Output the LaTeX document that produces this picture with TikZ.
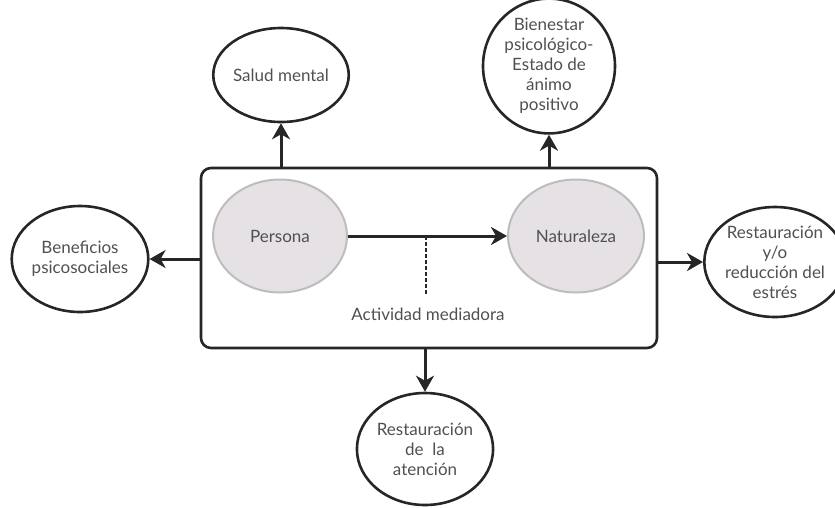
\documentclass[tikz,border=0pt]{standalone}
\usepackage{fontspec}
\setmainfont{Lato}
\usetikzlibrary{shapes.geometric,arrows.meta}
\definecolor{txt}{HTML}{505050}
\definecolor{edge}{HTML}{262626}
\definecolor{softfill}{HTML}{E5E1E5}
\definecolor{softedge}{HTML}{BDBDBD}
\begin{document}
\begin{tikzpicture}[x=1pt,y=-1pt,
  outcome/.style={ellipse,draw=edge,line width=2.6pt,inner sep=0pt,text=txt,align=center,
    font=\fontsize{17}{20}\selectfont},
  actor/.style={ellipse,draw=softedge,fill=softfill,line width=2pt,inner sep=0pt,text=txt,
    font=\fontsize{17}{20}\selectfont},
  link/.style={draw=edge,line width=3pt,-{Stealth[length=16pt,width=18pt,inset=5pt]}}]
\useasboundingbox (0,0) rectangle (835,507);
\node[draw=edge,line width=2.6pt,rounded corners=10pt,minimum width=456pt,minimum height=180pt,inner sep=0pt] (box) at (429,258) {};
\node[actor,minimum width=134pt,minimum height=113pt] (per) at (280,236) {Persona};
\node[actor,minimum width=136pt,minimum height=113pt] (nat) at (576,236) {Naturaleza};
\coordinate (mid) at (426,236);
\coordinate (dend) at (426,295);
\draw[link] (per.east) -- (nat.west);
\draw[edge,line width=2.8pt,dash pattern=on 4pt off 2pt] (mid) -- (dend);
\node[text=txt,font=\fontsize{17}{20}\selectfont] (act) at (428,314) {Actividad mediadora};
\node[outcome,minimum width=134pt,minimum height=94pt] (sal) at (281,75) {Salud mental};
\node[outcome,minimum width=132pt,minimum height=112pt] (bie) at (549,66) {Bienestar\\psicológico-\\Estado de\\ánimo\\positivo};
\node[outcome,minimum width=126pt,minimum height=110pt] (res) at (775,262) {Restauración\\y/o\\reducción del\\estrés};
\node[outcome,minimum width=136pt,minimum height=106pt] (ben) at (80,259) {Beneficios\\psicosociales};
\node[outcome,minimum width=124pt,minimum height=112pt] (ate) at (425,449) {Restauración\\de~ la\\atención};
\draw[link] (box.north -| sal.south) -- (sal.south);
\draw[link] (box.north -| bie.south) -- (bie.south);
\draw[link] (box.east |- res.west) -- (res.west);
\draw[link] (box.west |- ben.east) -- (ben.east);
\draw[link] (box.south -| ate.north) -- (ate.north);
\end{tikzpicture}
\end{document}
